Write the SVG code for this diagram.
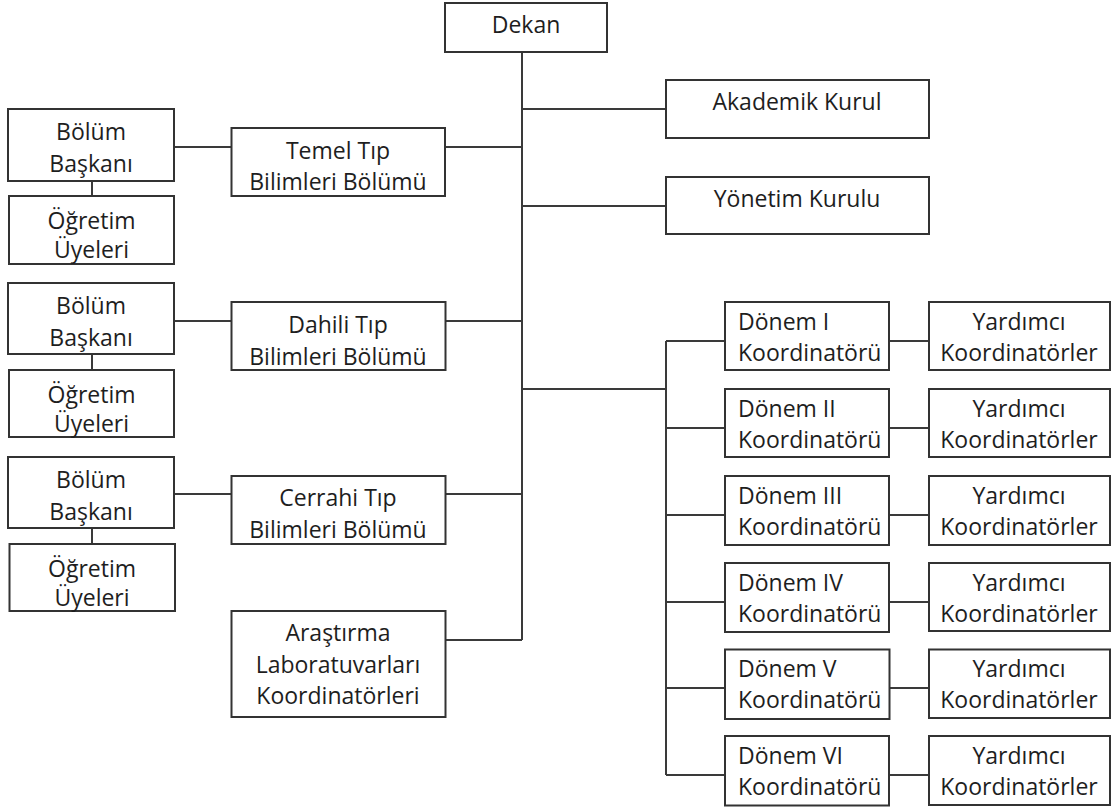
<svg xmlns="http://www.w3.org/2000/svg" width="1111" height="810" viewBox="0 0 1111 810">
<style>
.b{fill:#fff;stroke:#333;stroke-width:2}
.c{fill:none;stroke:#3a3a3a;stroke-width:2}
text{font-family:"Open Sans","Noto Sans",sans-serif;font-size:23px;fill:#1e1e1e}
.m{text-anchor:middle}
</style>
<rect width="1111" height="810" fill="#fff"/>
<g id="connectors">
<path class="c" d="M522 52V640M522 109H666M522 206H666M445 147H522M174 147H231.5M92 181V196M445.5 321H522M174 321H231.5M92 354V370M445.5 494H522M174 494H231.5M92 528V544M445.5 640H522M522 389H666M666 341V775M666 341H725M889 341H929M666 428H725M889 428H929M666 515H725M889 515H929M666 602H725M889 602H929M666 688H725M889 688H929M666 775H725M889 775H929"/>
</g>
<g id="dekan"><rect class="b" x="445" y="3" width="162" height="49"/><text class="m" x="526" y="33">Dekan</text></g>
<g id="akademik"><rect class="b" x="666" y="80" width="263" height="58"/><text class="m" x="797" y="110">Akademik Kurul</text></g>
<g id="yonetim"><rect class="b" x="666" y="177" width="263" height="57"/><text class="m" x="797" y="207">Yönetim Kurulu</text></g>
<g id="temel"><rect class="b" x="231.5" y="128" width="213.5" height="68"/><text class="m" x="338" y="159">Temel Tıp</text><text class="m" x="338" y="190">Bilimleri Bölümü</text></g>
<g id="baskan1"><rect class="b" x="8" y="109" width="166" height="72"/><text class="m" x="91" y="140">Bölüm</text><text class="m" x="91" y="172">Başkanı</text></g>
<g id="uyeler1"><rect class="b" x="9" y="196" width="165" height="68"/><text class="m" x="91.5" y="229">Öğretim</text><text class="m" x="91.5" y="258">Üyeleri</text></g>
<g id="dahili"><rect class="b" x="231.5" y="302" width="214" height="68"/><text class="m" x="338" y="333">Dahili Tıp</text><text class="m" x="338" y="365">Bilimleri Bölümü</text></g>
<g id="baskan2"><rect class="b" x="8" y="283" width="166" height="71"/><text class="m" x="91" y="314">Bölüm</text><text class="m" x="91" y="346">Başkanı</text></g>
<g id="uyeler2"><rect class="b" x="9" y="370" width="165" height="67"/><text class="m" x="91.5" y="403">Öğretim</text><text class="m" x="91.5" y="432">Üyeleri</text></g>
<g id="cerrahi"><rect class="b" x="231.5" y="476" width="214" height="68"/><text class="m" x="338" y="506">Cerrahi Tıp</text><text class="m" x="338" y="538">Bilimleri Bölümü</text></g>
<g id="baskan3"><rect class="b" x="8" y="457" width="166" height="71"/><text class="m" x="91" y="488">Bölüm</text><text class="m" x="91" y="520">Başkanı</text></g>
<g id="uyeler3"><rect class="b" x="9.5" y="544" width="165.5" height="67"/><text class="m" x="92" y="577">Öğretim</text><text class="m" x="92" y="606">Üyeleri</text></g>
<g id="arastirma"><rect class="b" x="231.5" y="611" width="214" height="106"/><text class="m" x="338" y="641">Araştırma</text><text class="m" x="338" y="673">Laboratuvarları</text><text class="m" x="338" y="704">Koordinatörleri</text></g>
<g id="donem1"><rect class="b" x="725" y="302" width="164" height="68"/><text x="738" y="330">Dönem I</text><text x="738" y="361">Koordinatörü</text></g>
<g id="yard1"><rect class="b" x="929" y="302" width="181" height="68"/><text class="m" x="1019" y="330">Yardımcı</text><text class="m" x="1019" y="361">Koordinatörler</text></g>
<g id="donem2"><rect class="b" x="725" y="389" width="164" height="68"/><text x="738" y="417">Dönem II</text><text x="738" y="448">Koordinatörü</text></g>
<g id="yard2"><rect class="b" x="929" y="389" width="181" height="68"/><text class="m" x="1019" y="417">Yardımcı</text><text class="m" x="1019" y="448">Koordinatörler</text></g>
<g id="donem3"><rect class="b" x="725" y="476" width="164" height="69"/><text x="738" y="504">Dönem III</text><text x="738" y="535">Koordinatörü</text></g>
<g id="yard3"><rect class="b" x="929" y="476" width="181" height="69"/><text class="m" x="1019" y="504">Yardımcı</text><text class="m" x="1019" y="535">Koordinatörler</text></g>
<g id="donem4"><rect class="b" x="725" y="563" width="164" height="69"/><text x="738" y="591">Dönem IV</text><text x="738" y="622">Koordinatörü</text></g>
<g id="yard4"><rect class="b" x="929" y="563" width="181" height="68"/><text class="m" x="1019" y="591">Yardımcı</text><text class="m" x="1019" y="622">Koordinatörler</text></g>
<g id="donem5"><rect class="b" x="725" y="649.5" width="164.5" height="69.5"/><text x="738" y="677">Dönem V</text><text x="738" y="708">Koordinatörü</text></g>
<g id="yard5"><rect class="b" x="929" y="649.5" width="181" height="68.5"/><text class="m" x="1019" y="677">Yardımcı</text><text class="m" x="1019" y="708">Koordinatörler</text></g>
<g id="donem6"><rect class="b" x="725" y="736" width="164" height="69.5"/><text x="738" y="764">Dönem VI</text><text x="738" y="795">Koordinatörü</text></g>
<g id="yard6"><rect class="b" x="929" y="736" width="181" height="69"/><text class="m" x="1019" y="764">Yardımcı</text><text class="m" x="1019" y="795">Koordinatörler</text></g>
</svg>
